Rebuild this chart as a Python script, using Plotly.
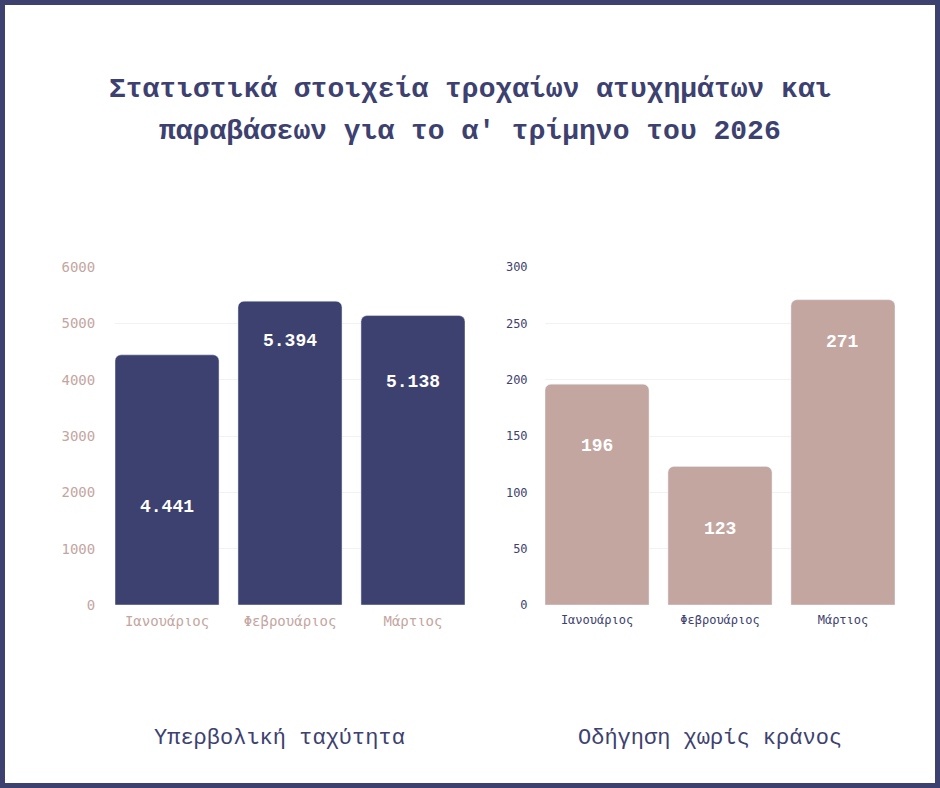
import plotly.graph_objects as go

# data
months = ["Ιανουάριος", "Φεβρουάριος", "Μάρτιος"]
speeding = [4441, 5394, 5138]
no_helmet = [196, 123, 271]
speeding_text = ["4.441", "5.394", "5.138"]
helmet_text = ["196", "123", "271"]
# where the value label sits inside each bar (share of bar height)
speeding_label_pos = [0.39, 0.87, 0.77]
helmet_label_pos = [0.72, 0.55, 0.86]

title_lines = ["Στατιστικά στοιχεία τροχαίων ατυχημάτων και",
               "παραβάσεων για το α' τρίμηνο του 2026"]
subtitles = ["Υπερβολική ταχύτητα", "Οδήγηση χωρίς κράνος"]

NAVY = "#3d416f"
PINK = "#c4a6a1"
W, H = 940, 788

fig = go.Figure()
fig.add_trace(go.Bar(x=months, y=speeding, marker=dict(color=NAVY, cornerradius=6),
                     xaxis="x", yaxis="y", hoverinfo="skip"))
fig.add_trace(go.Bar(x=months, y=no_helmet, marker=dict(color=PINK, cornerradius=6),
                     xaxis="x2", yaxis="y2", hoverinfo="skip"))

label_font = dict(family="Liberation Mono", size=18, color="white")
annotations = []
for m, v, t, p in zip(months, speeding, speeding_text, speeding_label_pos):
    annotations.append(dict(x=m, y=v * p, xref="x", yref="y", text="<b>" + t + "</b>",
                            showarrow=False, font=label_font, yanchor="middle"))
for m, v, t, p in zip(months, no_helmet, helmet_text, helmet_label_pos):
    annotations.append(dict(x=m, y=v * p, xref="x2", yref="y2", text="<b>" + t + "</b>",
                            showarrow=False, font=label_font, yanchor="middle"))

for i, line in enumerate(title_lines):
    annotations.append(dict(x=0.5, y=1 - (90 + 42 * i) / H, xref="paper", yref="paper",
                            text="<b>" + line + "</b>", showarrow=False,
                            xanchor="center", yanchor="middle",
                            font=dict(family="Liberation Mono", size=28, color=NAVY)))
for cx, s in zip([279, 710], subtitles):
    annotations.append(dict(x=cx / W, y=1 - 738 / H, xref="paper", yref="paper",
                            text=s, showarrow=False, xanchor="center", yanchor="middle",
                            font=dict(family="Liberation Mono", size=22, color=NAVY)))

yd = [1 - 605 / H, 1 - 267 / H]
xr = [-0.423, 2.423]
grid = "#f2f2f2"

fig.update_layout(
    width=W, height=H,
    margin=dict(l=0, r=0, t=0, b=0),
    paper_bgcolor="white", plot_bgcolor="white",
    showlegend=False, bargap=0.154,
    annotations=annotations,
    xaxis=dict(domain=[115 / W, 465 / W], range=xr, showgrid=False, zeroline=False,
               automargin=False,
               tickfont=dict(family="DejaVu Sans Mono", size=14, color=PINK),
               ticks="outside", ticklen=3, tickcolor="rgba(0,0,0,0)", fixedrange=True),
    yaxis=dict(domain=yd, range=[0, 6000], dtick=1000, gridcolor=grid, zeroline=False,
               automargin=False,
               tickfont=dict(family="DejaVu Sans Mono", size=14, color=PINK),
               ticks="outside", ticklen=16, tickcolor="rgba(0,0,0,0)", fixedrange=True),
    xaxis2=dict(domain=[545 / W, 895 / W], range=xr, anchor="y2", showgrid=False, zeroline=False,
                automargin=False,
                tickfont=dict(family="DejaVu Sans Mono", size=12, color=NAVY),
                ticks="outside", ticklen=4, tickcolor="rgba(0,0,0,0)", fixedrange=True),
    yaxis2=dict(domain=yd, range=[0, 300], dtick=50, anchor="x2", gridcolor=grid, zeroline=False,
                automargin=False,
                tickfont=dict(family="DejaVu Sans Mono", size=12, color=NAVY),
                ticks="outside", ticklen=14, tickcolor="rgba(0,0,0,0)", fixedrange=True),
    shapes=[dict(type="rect", xref="paper", yref="paper", x0=0, y0=0, x1=1, y1=1,
                 line=dict(color=NAVY, width=10), fillcolor="rgba(0,0,0,0)")],
)

fig.write_html("out.html", config={"displayModeBar": False},
               post_script="document.body.style.margin='0';document.body.style.overflow='hidden';")
